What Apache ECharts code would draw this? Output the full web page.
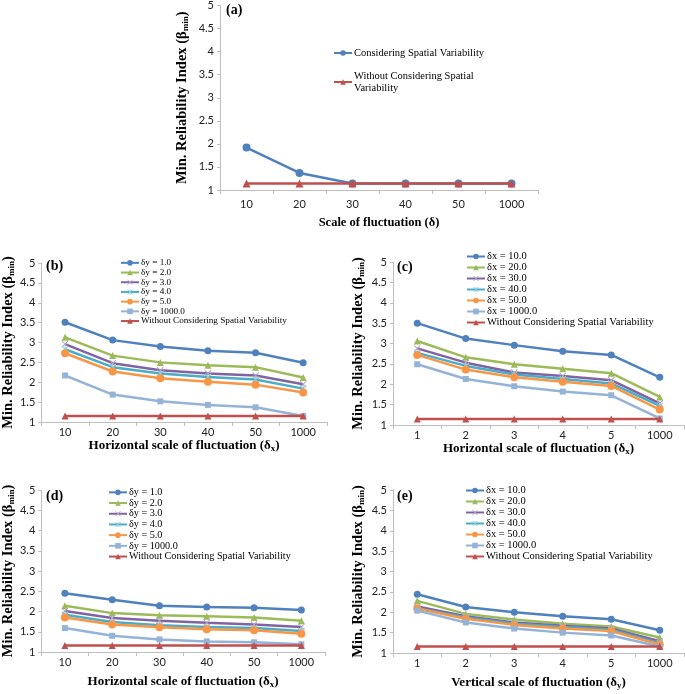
<!DOCTYPE html>
<html>
<head>
<meta charset="utf-8">
<script src="https://cdn.jsdelivr.net/npm/echarts@6/dist/echarts.min.js"></script>
<style>html,body{margin:0;padding:0;background:#fff}#c{width:685px;height:694px}</style>
</head>
<body>
<div id="c"></div>
<script>
// ---------- data ----------
const catsA = ['10', '20', '30', '40', '50', '1000'];
const catsHoriz = ['10', '20', '30', '40', '50', '1000'];
const catsVert = ['1', '2', '3', '4', '5', '1000'];

// panel (a)
const aConsidering = [1.92, 1.37, 1.14, 1.14, 1.14, 1.14];
const aWithout = [1.14, 1.14, 1.14, 1.14, 1.14, 1.14];

// panel (b)
const bNames = ['δy = 1.0', 'δy = 2.0', 'δy = 3.0', 'δy = 4.0', 'δy = 5.0', 'δy = 1000.0'];
const bDy1 = [3.51, 3.06, 2.90, 2.79, 2.74, 2.49];
const bDy2 = [3.13, 2.67, 2.50, 2.43, 2.38, 2.12];
const bDy3 = [2.96, 2.48, 2.30, 2.22, 2.17, 1.95];
const bDy4 = [2.83, 2.38, 2.22, 2.13, 2.07, 1.84];
const bDy5 = [2.73, 2.27, 2.10, 2.01, 1.94, 1.74];
const bDy1000 = [2.17, 1.69, 1.52, 1.43, 1.37, 1.15];
const bWithout = [1.15, 1.15, 1.15, 1.15, 1.15, 1.15];

// panel (c)
const cNames = ['δx = 10.0', 'δx = 20.0', 'δx = 30.0', 'δx = 40.0', 'δx = 50.0', 'δx = 1000.0'];
const cDx10 = [3.50, 3.12, 2.96, 2.81, 2.72, 2.17];
const cDx20 = [3.06, 2.66, 2.49, 2.38, 2.27, 1.69];
const cDx30 = [2.88, 2.53, 2.29, 2.20, 2.10, 1.53];
const cDx40 = [2.77, 2.45, 2.24, 2.13, 2.02, 1.47];
const cDx50 = [2.72, 2.36, 2.17, 2.06, 1.96, 1.38];
const cDx1000 = [2.49, 2.13, 1.95, 1.82, 1.73, 1.16];
const cWithout = [1.15, 1.15, 1.15, 1.15, 1.15, 1.15];

// panel (d)
const dDy1 = [2.45, 2.29, 2.14, 2.11, 2.09, 2.04];
const dDy2 = [2.14, 1.96, 1.91, 1.88, 1.85, 1.77];
const dDy3 = [2.01, 1.84, 1.77, 1.72, 1.68, 1.62];
const dDy4 = [1.92, 1.74, 1.66, 1.62, 1.59, 1.52];
const dDy5 = [1.85, 1.68, 1.61, 1.56, 1.54, 1.45];
const dDy1000 = [1.59, 1.40, 1.31, 1.26, 1.24, 1.19];
const dWithout = [1.16, 1.16, 1.16, 1.16, 1.16, 1.16];

// panel (e)
const eDx10 = [2.44, 2.13, 2.00, 1.90, 1.83, 1.56];
const eDx20 = [2.28, 1.96, 1.82, 1.72, 1.65, 1.38];
const eDx30 = [2.14, 1.90, 1.75, 1.67, 1.60, 1.29];
const eDx40 = [2.10, 1.87, 1.72, 1.64, 1.57, 1.24];
const eDx50 = [2.09, 1.84, 1.69, 1.60, 1.54, 1.21];
const eDx1000 = [2.04, 1.75, 1.60, 1.50, 1.43, 1.16];
const eWithout = [1.16, 1.16, 1.16, 1.16, 1.16, 1.16];

const yTicks = { min: 1, max: 5, interval: 0.5 };
const NAME_CONS = 'Considering Spatial Variability';
const NAME_WITHOUT = 'Without Considering Spatial Variability';

// ---------- styles ----------
const SERIF = 'Liberation Serif';
const SANS = 'Lato';
const COLORS = ['#4F81BD', '#9BBB59', '#8064A2', '#4BACC6', '#F79646', '#95B3D7'];
const RED = '#C0504D';
const SYM_X = 'path://M0,1L1,0L5,4L9,0L10,1L6,5L10,9L9,10L5,6L1,10L0,9L4,5Z';
const SYM_STAR = 'path://M0,1L1,0L5,4L9,0L10,1L6,5L10,9L9,10L5,6L1,10L0,9L4,5Z M4.3,0H5.7V10H4.3Z';
const SYMBOLS = ['circle', 'triangle', SYM_X, SYM_STAR, 'circle', 'rect'];
const SIZES = [7, 7, 7, 7, 8, 6];
const MARKER_COLORS = ['#4F81BD', '#9BBB59', '#B3A2C7', '#93CDDD', '#F79646', '#95B3D7'];

const grids = [
  { left: 220, top: 5, width: 318, height: 185 },
  { left: 40, top: 263, width: 287, height: 159 },
  { left: 393, top: 262, width: 291, height: 163 },
  { left: 40, top: 490, width: 285, height: 162 },
  { left: 393, top: 490, width: 291, height: 163 }
];

function xAxis(i, cats, name, gap, lblMargin, fs) {
  return {
    type: 'category', gridIndex: i, data: cats, boundaryGap: true,
    axisLine: { lineStyle: { color: '#BFBFBF', width: 1 } },
    axisTick: { show: true, length: 4, lineStyle: { color: '#BFBFBF' } },
    axisLabel: { color: '#222', fontFamily: SANS, fontSize: 11, margin: lblMargin },
    splitLine: { show: false },
    name: name, nameLocation: 'middle', nameGap: gap,
    nameTextStyle: {
      color: '#000', fontFamily: SERIF, fontWeight: 'bold', fontSize: fs || 13,
      rich: { s: { fontFamily: SERIF, fontWeight: 'bold', fontSize: 9, verticalAlign: 'bottom', padding: [6, 0, 0, 0] } }
    }
  };
}
function yAxis(i, gap) {
  return {
    type: 'value', gridIndex: i, min: yTicks.min, max: yTicks.max, interval: yTicks.interval,
    axisLine: { show: true, lineStyle: { color: '#BFBFBF', width: 1 } },
    axisTick: { show: true, length: 3, lineStyle: { color: '#BFBFBF' } },
    axisLabel: { color: '#222', fontFamily: SANS, fontSize: 11, margin: 6 },
    splitLine: { show: false },
    name: 'Min. Reliability Index (β{s|min})', nameLocation: 'middle', nameGap: gap,
    nameTextStyle: {
      color: '#000', fontFamily: SERIF, fontWeight: 'bold', fontSize: 14.5,
      rich: { s: { fontFamily: SERIF, fontWeight: 'bold', fontSize: 9, verticalAlign: 'bottom', padding: [6, 0, 0, 0] } }
    }
  };
}

function line(name, data, idx, colorIdx, opts) {
  opts = opts || {};
  return {
    type: 'line', name: name, data: data, xAxisIndex: idx, yAxisIndex: idx,
    symbol: SYMBOLS[colorIdx], symbolSize: opts.size || SIZES[colorIdx], showSymbol: true,
    lineStyle: { color: COLORS[colorIdx], width: opts.width || 2.5 },
    itemStyle: { color: MARKER_COLORS[colorIdx], borderWidth: 0 },
    emphasis: { disabled: true }, z: 2 + colorIdx
  };
}
function redLine(data, idx, size) {
  return {
    type: 'line', name: NAME_WITHOUT, data: data, xAxisIndex: idx, yAxisIndex: idx,
    symbol: 'triangle', symbolSize: size || 7,
    lineStyle: { color: RED, width: 2.5 }, itemStyle: { color: RED, borderWidth: 0 },
    emphasis: { disabled: true }, z: 10
  };
}

const series = [
  {
    type: 'line', name: NAME_CONS, data: aConsidering, xAxisIndex: 0, yAxisIndex: 0,
    symbol: 'circle', symbolSize: 8, lineStyle: { color: '#4F81BD', width: 2.5 },
    itemStyle: { color: '#4F81BD', borderWidth: 0 }, emphasis: { disabled: true }, z: 3
  },
  redLine(aWithout, 0, 8)
];
[bDy1, bDy2, bDy3, bDy4, bDy5, bDy1000].forEach((d, k) => series.push(line(bNames[k], d, 1, k)));
series.push(redLine(bWithout, 1));
[cDx10, cDx20, cDx30, cDx40, cDx50, cDx1000].forEach((d, k) => series.push(line(cNames[k], d, 2, k)));
series.push(redLine(cWithout, 2));
[dDy1, dDy2, dDy3, dDy4, dDy5, dDy1000].forEach((d, k) => series.push(line(bNames[k], d, 3, k)));
series.push(redLine(dWithout, 3));
[eDx10, eDx20, eDx30, eDx40, eDx50, eDx1000].forEach((d, k) => series.push(line(cNames[k], d, 4, k)));
series.push(redLine(eWithout, 4));

function legend(left, top, data, fontSize, lineHeight, gap, formatter) {
  return {
    orient: 'vertical', left: left, top: top, data: data, selectedMode: false,
    itemWidth: 18, itemHeight: 7, itemGap: gap, padding: 0,
    textStyle: { fontFamily: SERIF, fontSize: fontSize, lineHeight: lineHeight, color: '#000', padding: [0, 0, 0, -3] },
    formatter: formatter
  };
}
const legBData = bNames.concat([NAME_WITHOUT]);
const legCData = cNames.concat([NAME_WITHOUT]);

const titles = [
  { text: '(a)', left: 226, top: 3 },
  { text: '(b)', left: 46, top: 259 },
  { text: '(c)', left: 397, top: 260 },
  { text: '(d)', left: 46, top: 489 },
  { text: '(e)', left: 397, top: 489 }
].map(t => Object.assign(t, { padding: 0, textStyle: { fontFamily: SERIF, fontWeight: 'bold', fontSize: 14, color: '#000' } }));

const option = {
  animation: false,
  backgroundColor: '#fff',
  title: titles,
  grid: grids,
  xAxis: [
    xAxis(0, catsA, 'Scale of fluctuation (δ)', 26, 9, 12.5),
    xAxis(1, catsHoriz, 'Horizontal scale of fluctuation (δ{s|x})', 16, 5),
    xAxis(2, catsVert, 'Horizontal scale of fluctuation (δ{s|x})', 16, 5),
    xAxis(3, catsHoriz, 'Horizontal scale of fluctuation (δ{s|x})', 22, 5),
    xAxis(4, catsVert, 'Vertical scale of fluctuation (δ{s|y})', 22, 5)
  ],
  yAxis: [yAxis(0, 30), yAxis(1, 25), yAxis(2, 27), yAxis(3, 25), yAxis(4, 27)],
  legend: [
    legend(333, 47, [NAME_CONS, NAME_WITHOUT], 10.5, 12, 11,
      n => n === NAME_WITHOUT ? 'Without Considering Spatial\nVariability' : n),
    legend(120, 258, legBData, 9.2, 9.7, 0),
    legend(466, 251, legCData, 10.5, 11, 0),
    legend(108, 487, legBData, 10.2, 10.7, 0),
    legend(465, 485, legCData, 10.5, 11, 0)
  ],
  series: series
};

const chart = echarts.init(document.getElementById('c'), null, { renderer: 'canvas' });
chart.setOption(option);
</script>
</body>
</html>
